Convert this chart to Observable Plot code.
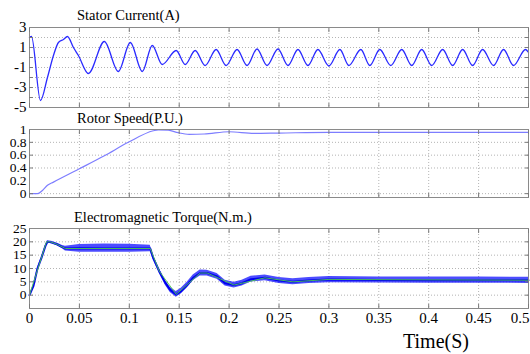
<!DOCTYPE html>
<html><head><meta charset="utf-8">
<script src="https://cdn.jsdelivr.net/npm/d3@7"></script>
<script src="https://cdn.jsdelivr.net/npm/@observablehq/plot@0.6"></script>
<style>
body{margin:0;background:#fff;}
#wrap{position:relative;width:530px;height:354px;overflow:hidden;font-family:"Liberation Serif","DejaVu Serif",serif;background:#fff;}
.panel{position:absolute;left:0;}
.title{position:absolute;font-family:"Liberation Serif","DejaVu Serif",serif;font-size:14.5px;line-height:1;white-space:nowrap;color:#000;}
#xlabel{position:absolute;left:403px;top:331px;font-family:"Liberation Serif","DejaVu Serif",serif;font-size:20px;line-height:1;white-space:nowrap;}
</style></head><body><div id="wrap"></div>
<script>
// ---- data ----
const titles = ["Stator Current(A)", "Rotor Speed(P.U.)", "Electromagnetic Torque(N.m.)"];
const xLabel = "Time(S)";
const xTicks = [0, 0.05, 0.1, 0.15, 0.2, 0.25, 0.3, 0.35, 0.4, 0.45, 0.5];
const xTickLabels = ["0", "0.05", "0.1", "0.15", "0.2", "0.25", "0.3", "0.35", "0.4", "0.45", "0.5"];
const xGrid = [0.05, 0.1, 0.15, 0.2, 0.25, 0.3, 0.35, 0.4, 0.45];

// Stator current (peaks/troughs and shape points)
const currentT = [0, 0.002, 0.011, 0.018, 0.024, 0.029, 0.034, 0.038, 0.044, 0.049, 0.059, 0.075, 0.089, 0.101, 0.113, 0.123, 0.133, 0.147, 0.156, 0.166,
  0.176, 0.187, 0.197, 0.208, 0.218, 0.228, 0.238, 0.249, 0.259, 0.269, 0.279, 0.289, 0.300, 0.311, 0.320, 0.332,
  0.341, 0.351, 0.362, 0.373, 0.383, 0.393, 0.403, 0.414, 0.424, 0.434, 0.444, 0.454, 0.465, 0.475, 0.485, 0.497, 0.5];
const currentA = [2.0, 2.1, -4.3, -2.0, 0.2, 1.5, 1.8, 2.1, 1.0, 0.2, -1.6, 1.6, -1.4, 1.5, -1.4, 1.2, -0.7, 0.7, -0.7, 0.7,
  -0.8, 0.8, -0.8, 0.8, -0.8, 0.85, -0.8, 0.85, -0.8, 0.8, -0.8, 0.8, -0.85, 0.8, -0.8, 0.8,
  -0.8, 0.8, -0.8, 0.8, -0.8, 0.8, -0.8, 0.8, -0.8, 0.8, -0.8, 0.8, -0.8, 0.8, -0.8, 0.8, 0.5];
const currentYLabels = [3, 1, -1, -3, -5];
const currentYGrid = [-4, -3, -2, -1, 0, 1, 2];
const currentDomain = [-5, 3];

// Rotor speed
const speedT = [0, 0.008, 0.013, 0.018, 0.024, 0.049, 0.075, 0.099, 0.124, 0.129, 0.139, 0.149, 0.16, 0.175, 0.2, 0.225, 0.25, 0.3, 0.35, 0.4, 0.45, 0.5];
const speedV = [0, 0, 0.05, 0.13, 0.18, 0.38, 0.59, 0.80, 0.98, 0.995, 0.99, 0.95, 0.925, 0.93, 0.965, 0.94, 0.945, 0.955, 0.955, 0.955, 0.955, 0.955];
const speedYLabels = [0, 0.2, 0.4, 0.6, 0.8, 1];
const speedYGrid = [0, 0.4, 0.6, 0.8];
const speedDomain = [-0.06, 1];

// Electromagnetic torque (centre line and band edges)
const torqueT = [0, 0.004, 0.008, 0.012, 0.016, 0.018, 0.022, 0.028, 0.033, 0.036, 0.05, 0.075, 0.1, 0.121, 0.124, 0.13, 0.136, 0.141, 0.147, 0.152, 0.158, 0.164, 0.171, 0.178, 0.188, 0.196, 0.205, 0.213, 0.222, 0.236, 0.25, 0.264, 0.28, 0.3, 0.35, 0.4, 0.45, 0.5];
const torqueMid = [0, 3.5, 10, 14, 18.5, 20, 19.8, 19, 18, 17.5, 17.6, 17.5, 17.5, 17.5, 14, 9, 4.7, 2, 0.3, 1.5, 3.8, 6.5, 8.3, 8.3, 7, 4.5, 3.8, 4.5, 6, 6.5, 5.5, 5, 5.5, 5.9, 5.7, 5.6, 5.6, 5.6];
const torqueLow = [0, 3.3, 9.7, 13.6, 18.1, 19.6, 19.3, 18.5, 17.4, 16.6, 16.1, 16.1, 16.1, 16.3, 13.2, 8.2, 3.8, 1.0, -0.8, 0.4, 2.7, 5.4, 7.2, 7.2, 6.0, 3.4, 2.7, 3.4, 4.9, 5.4, 4.4, 3.9, 4.4, 4.7, 4.6, 4.5, 4.5, 4.4];
const torqueHigh = [0, 3.7, 10.3, 14.4, 18.9, 20.4, 20.2, 19.5, 18.6, 18.3, 19.0, 19.2, 19.1, 18.7, 15.0, 10.0, 5.6, 3.0, 1.4, 2.6, 4.8, 7.6, 9.4, 9.3, 8.1, 5.6, 4.8, 5.6, 7.1, 7.6, 6.6, 6.2, 6.6, 7.0, 6.8, 6.8, 6.8, 6.7];
const refT = [0, 0.017, 0.021, 0.028, 0.036, 0.121, 0.13, 0.147, 0.171, 0.178, 0.205, 0.236, 0.264, 0.3, 0.5];
const refV = [0, 20, 20, 19, 17.5, 17.5, 9, 0.3, 8.3, 8.3, 3.8, 6.5, 5, 5.9, 5.6];
const torqueYLabels = [0, 5, 10, 15, 20, 25];
const torqueYGrid = [0, 5, 10, 15, 20];
const torqueDomain = [-5, 25];

// ---- build ----
const current = currentT.map((t, i) => ({t, v: currentA[i]}));
const speed = speedT.map((t, i) => ({t, v: speedV[i]}));
const torque = torqueT.map((t, i) => ({t, v: torqueMid[i], lo: torqueLow[i], hi: torqueHigh[i]}));
const ref = refT.map((t, i) => ({t, v: refV[i]}));

const FONT = "Liberation Serif, DejaVu Serif, serif";
const gridStyle = {stroke: "#b4b4b4", strokeOpacity: 1, strokeDasharray: "1,2"};
const tickColor = "#7a7a7a";

function makePanel({dataMarks, domain, yLabels, yGrid, height, marginTop, marginBottom, showX, labelSize = 15}) {
  const marks = [
    Plot.gridX(xGrid, gridStyle),
    Plot.gridY(yGrid, gridStyle),
    ...dataMarks,
    Plot.frame({stroke: "#8a8a8a"}),
    Plot.axisX(xTicks, {anchor: "bottom", tickSize: -4, tickFormat: () => "", label: null, stroke: tickColor}),
    Plot.axisX(xTicks, {anchor: "top", tickSize: -4, tickFormat: () => "", label: null, stroke: tickColor}),
    Plot.axisY(yGrid, {anchor: "left", tickSize: -4, tickFormat: () => "", label: null, stroke: tickColor}),
    Plot.axisY(yGrid, {anchor: "right", tickSize: -4, tickFormat: () => "", label: null, stroke: tickColor}),
    Plot.axisY(yLabels, {anchor: "left", tickSize: 0, tickPadding: 3, label: null, fontSize: labelSize, fill: "#000",
      fontFamily: FONT, tickFormat: d => String(d)})
  ];
  if (showX) {
    const main = xTicks.slice(0, -1);
    marks.push(Plot.axisX(main, {anchor: "bottom", tickSize: 0, tickPadding: 4, label: null, fontSize: 15, fill: "#000",
      fontFamily: FONT, tickFormat: d => xTickLabels[xTicks.indexOf(d)]}));
    marks.push(Plot.axisX(xTicks.slice(-1), {anchor: "bottom", tickSize: 0, tickPadding: 4, label: null, fontSize: 15, fill: "#000",
      fontFamily: FONT, textAnchor: "end", dx: 1, tickFormat: d => xTickLabels[xTicks.indexOf(d)]}));
  }
  return Plot.plot({
    width: 530, height, marginLeft: 29, marginRight: 2, marginTop, marginBottom,
    x: {domain: [0, 0.5]},
    y: {domain},
    style: {fontFamily: FONT, fontSize: "15px", background: "transparent", color: "#000", overflow: "visible"},
    marks
  });
}

const wrap = document.getElementById("wrap");
const panels = [
  {top: 0, el: makePanel({
    dataMarks: [Plot.line(current, {x: "t", y: "v", stroke: "#2b2bff", strokeWidth: 1.3, curve: "monotone-x"})],
    domain: currentDomain, yLabels: currentYLabels, yGrid: currentYGrid, height: 116, marginTop: 27, marginBottom: 9})},
  {top: 110, el: makePanel({
    dataMarks: [Plot.line(speed, {x: "t", y: "v", stroke: "#7d7dff", strokeWidth: 1.2, curve: "monotone-x"})],
    domain: speedDomain, yLabels: speedYLabels, yGrid: speedYGrid, height: 94, marginTop: 19, marginBottom: 7, labelSize: 13.5})},
  {top: 200, el: makePanel({
    dataMarks: [
      Plot.areaY(torque, {x: "t", y1: "lo", y2: "hi", fill: "#1f1fff", fillOpacity: 0.8}),
      Plot.line(torque, {x: "t", y: "v", stroke: "#0000f0", strokeWidth: 2}),
      Plot.line(ref, {x: "t", y: "v", stroke: "#4ccc4c", strokeWidth: 1, strokeOpacity: 0.9})
    ],
    domain: torqueDomain, yLabels: torqueYLabels, yGrid: torqueYGrid, height: 154, marginTop: 28, marginBottom: 46, showX: true, labelSize: 13.5})}
];
for (const p of panels) {
  const d = document.createElement("div");
  d.className = "panel";
  d.style.top = p.top + "px";
  d.appendChild(p.el);
  wrap.appendChild(d);
}
const titleTops = [8, 111, 210];
titles.forEach((t, i) => {
  const d = document.createElement("div");
  d.className = "title";
  d.style.left = (i === 2 ? 74 : 77) + "px";
  d.style.top = titleTops[i] + "px";
  d.textContent = t;
  wrap.appendChild(d);
});
const xl = document.createElement("div");
xl.id = "xlabel";
xl.textContent = xLabel;
wrap.appendChild(xl);
</script>
</body></html>
